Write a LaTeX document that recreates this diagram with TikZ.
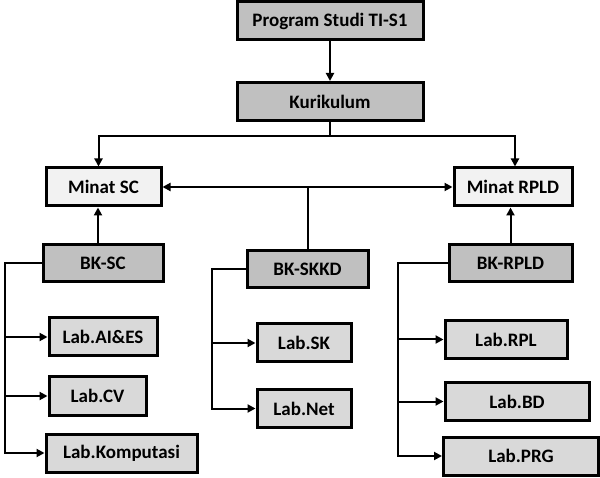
\documentclass[tikz,border=0pt]{standalone}
\usepackage{fontspec}
\setmainfont{Carlito}
\usepackage{tikz}
\usetikzlibrary{arrows.meta}

\definecolor{boxgray}{RGB}{192,192,192}
\definecolor{labgray}{RGB}{217,217,217}
\definecolor{minatgray}{RGB}{242,242,242}

\begin{document}
\begin{tikzpicture}[
        x=1pt, y=-1pt,
        every node/.style={draw, rectangle, line width=3pt, align=center,
          font=\fontsize{19}{22}\selectfont\bfseries, inner sep=0pt},
        topbox/.style={fill=boxgray, minimum width=186pt, minimum height=38pt},
        minatbox/.style={fill=minatgray, minimum height=38pt},
        bkbox/.style={fill=boxgray, minimum height=37pt},
        labbox/.style={fill=labgray, minimum height=38pt},
        link/.style={line width=2pt},
        arr/.style={link, -{Triangle[length=8pt,width=8pt]}},
        arrs/.style={link, {Triangle[length=8pt,width=8pt]}-{Triangle[length=8pt,width=8pt]}}
        ]
        \useasboundingbox (0,0) rectangle (600,478);

        % Top
        \node[topbox] (prog) at (330,21) {Program Studi TI-S1};
        \node[topbox] (kur) at (330,101.5) {Kurikulum};
        % Minat
        \node[minatbox, minimum width=115pt] (minsc) at (103.5,187) {Minat SC};
        \node[minatbox, minimum width=118pt] (minrpld) at (513,187) {Minat RPLD};
        % Bidang keahlian
        \node[bkbox, minimum width=120pt] (bksc) at (103,263.5) {BK-SC};
        \node[bkbox, minimum width=121pt] (bkskkd) at (307.5,269.5) {BK-SKKD};
        \node[bkbox, minimum width=123pt] (bkrpld) at (510.5,263) {BK-RPLD};
        % Lab
        \node[labbox, minimum width=108pt] (labai) at (103,337) {Lab.AI\&ES};
        \node[labbox, minimum width=97pt] (labcv) at (97.5,396) {Lab.CV};
        \node[labbox, minimum width=151pt] (labkom) at (121.5,453) {Lab.Komputasi};
        \node[labbox, minimum width=94pt] (labsk) at (304,343) {Lab.SK};
        \node[labbox, minimum width=94pt] (labnet) at (304,408.5) {Lab.Net};
        \node[labbox, minimum width=122pt] (labrpl) at (506,339.5) {Lab.RPL};
        \node[labbox, minimum width=144pt] (labbd) at (517,401.5) {Lab.BD};
        \node[labbox, minimum width=155pt] (labprg) at (521,456) {Lab.PRG};

        \coordinate (split) at (330,136);
        \coordinate (scbus) at (5,263.5);
        \coordinate (skkdbus) at (212,269.5);
        \coordinate (rpldbus) at (398,263);

        % Connectors
        \draw[arr] (prog) -- (kur);
        \draw[arr] (kur.south) -- (split) -| ([xshift=-5pt]minsc.north);
        \draw[arr] (split) -| ([xshift=2pt]minrpld.north);
        \draw[arrs] (minsc) -- (minrpld);
        \draw[link] (bkskkd.north) -- (bkskkd.north |- minsc.east);
        \draw[arr] ([xshift=-5pt]bksc.north) -- ([xshift=-5pt]bksc.north |- minsc.south);
        \draw[arr] (bkrpld.north) -- (bkrpld.north |- minrpld.south);

        \draw[arr] (bksc.west) -- (scbus) |- (labkom.west);
        \draw[arr] (scbus |- labai.west) -- (labai.west);
        \draw[arr] (scbus |- labcv.west) -- (labcv.west);

        \draw[arr] (bkskkd.west) -- (skkdbus) |- (labnet.west);
        \draw[arr] (skkdbus |- labsk.west) -- (labsk.west);

        \draw[arr] (bkrpld.west) -- (rpldbus) |- (labprg.west);
        \draw[arr] (rpldbus |- labrpl.west) -- (labrpl.west);
        \draw[arr] (rpldbus |- labbd.west) -- (labbd.west);
    \end{tikzpicture}
\end{document}
